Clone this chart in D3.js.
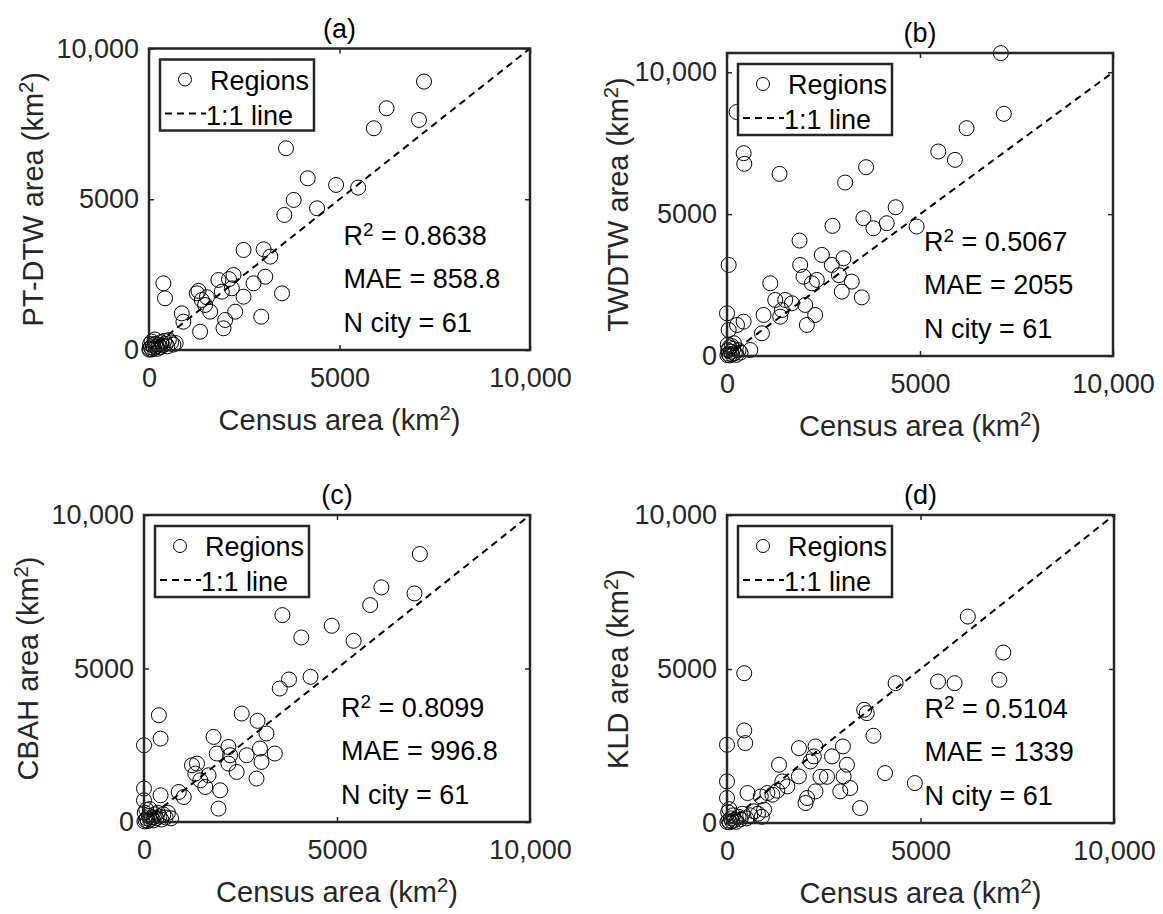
<!DOCTYPE html>
<html><head><meta charset="utf-8">
<script src="https://cdn.jsdelivr.net/npm/d3@7"></script>
<style>body{margin:0;background:#fff} svg text{font-family:"Liberation Sans",Arial,sans-serif}</style>
</head><body><svg id="fig" width="1163" height="914"></svg>
<script>
// ---------------- data ----------------
const tickValues = [0, 5000, 10000];
const tickLabels = ["0", "5000", "10,000"];
const panelTitles = ["(a)", "(b)", "(c)", "(d)"];
const yNames = ["PT-DTW", "TWDTW", "CBAH", "KLD"];
const r2Values = ["0.8638", "0.5067", "0.8099", "0.5104"];
const maeValues = ["858.8", "2055", "996.8", "1339"];
const nCity = [61, 61, 61, 61];
const yMaxValues = [10000, 10680, 10000, 10000];
const legendLabels = ["Regions", "1:1 line"];

const censusA = [7218,6235,5902,7086,3596,4166,4911,5490,3798,4411,3552,2482,3008,3184,
  377,421,860,903,1341,1254,1300,1385,1473,1604,1520,1823,1911,2218,2174,2481,2744,3051,3491,2946,2262,1999,1955,2100,
  20,50,80,100,130,160,190,220,250,290,320,360,400,440,480,520,580,640,30,70,10,150,700];
const ptdtw = [8903,8018,7355,7631,6691,5696,5475,5386,4977,4700,4479,3318,3340,3097,
  2212,1714,1216,939,607,1880,1960,1658,1493,1271,1750,2322,1935,2488,2046,1768,2212,2432,1880,1105,1271,995,720,2350,
  40,90,20,150,60,200,110,40,180,90,260,150,300,200,120,330,250,180,200,280,10,350,230];

const censusB = [7094,7172,6206,5474,5905,3603,3060,431,448,1362,4370,3534,4138,3793,4913,2733,1879,2457,3017,2715,1896,43,
  1983,2198,2327,3232,2974,1121,3491,1250,1509,1681,2026,948,1379,2284,2069,905,431,259,0,43,603,1420,2900,
  10,40,70,100,130,160,200,240,20,60,300,350,30,120,180,250];
const twdtw = [10676,8536,8031,7208,6914,6655,6114,7149,6773,6420,5244,4856,4680,4503,4562,4586,4068,3563,3445,3210,3210,3210,
  2798,2563,2681,2622,2269,2563,2069,1975,1975,1858,1799,1446,1387,1446,1094,800,1211,1094,1505,917,212,1620,2850,
  30,80,20,150,60,250,100,40,400,300,200,120,200,350,450,8600];

const censusC = [7146,7008,6150,5859,3586,4864,4075,5430,3757,4315,3517,2531,386,2942,429,0,1801,3173,2187,2230,2658,3003,3389,1886,
  3044,2187,2401,2915,1243,1372,1329,1458,1587,1672,1973,1930,0,0,429,900,1029,
  10,40,70,100,130,160,200,240,280,320,360,400,450,500,560,620,20,60,150,700];
const cbah = [8729,7446,7642,7066,6739,6392,6011,5902,4642,4729,4348,3533,3478,3294,2718,2500,2771,2882,2445,2175,2175,2393,2230,2230,
  1956,1903,1630,1415,1848,1903,1577,1359,1141,1522,1033,437,1089,707,870,978,815,
  20,60,120,30,200,80,150,50,250,120,300,180,80,250,150,300,300,400,420,120];

const censusD = [6223,7139,7036,5453,5881,4357,445,3544,3612,3784,445,471,0,1860,2286,2996,2243,2714,3099,1344,1857,2414,2585,3013,
  4083,4854,1430,1558,1044,1173,531,2286,2927,3184,2071,2029,3441,0,0,702,959,2157,873,1300,
  10,40,70,100,130,160,200,240,300,350,400,30,60,500,600,800,900];
const kld = [6702,5535,4648,4594,4540,4540,4864,3675,3567,2832,3005,2594,2540,2430,2486,2486,2162,2162,1892,1892,1513,1500,1500,1513,
  1621,1297,1351,1189,973,919,973,1027,1027,1135,811,649,486,1351,811,378,432,1998,862,1050,
  30,80,20,150,60,250,100,40,200,120,300,350,450,150,250,300,200];

const panelX = [censusA, censusB, censusC, censusD];
const panelY = [ptdtw, twdtw, cbah, kld];

// ---------------- layout (pixels) ----------------
const boxes = [
  {l:149, r:530, t:48.5, b:350, yl:106},
  {l:727, r:1113, t:53, b:356, yl:99},
  {l:144, r:530, t:515, b:822, yl:106},
  {l:727, r:1114, t:515, b:823, yl:99}
];
const axisColor = "#262626";
const FS_TICK = 27, FS_LABEL = 29, FS_TEXT = 27;

const svg = d3.select("#fig");

function supText(sel, before, sup, after) {
  sel.append("tspan").text(before);
  sel.append("tspan").attr("dy", "-0.5em").attr("font-size", "0.7em").text(sup);
  if (after !== undefined) sel.append("tspan").attr("dy", "0.35em").text(after);
}

boxes.forEach((bx, i) => {
  const g = svg.append("g");
  const x = d3.scaleLinear().domain([0, 10000]).range([bx.l, bx.r]);
  const y = d3.scaleLinear().domain([0, yMaxValues[i]]).range([bx.b, bx.t]);

  const fmt = d => tickLabels[tickValues.indexOf(d)];
  const ax = g.append("g").attr("transform", `translate(0,${bx.b})`)
    .call(d3.axisBottom(x).tickValues(tickValues).tickFormat(fmt).tickSizeInner(-5).tickSizeOuter(0).tickPadding(18));
  const ay = g.append("g").attr("transform", `translate(${bx.l},0)`)
    .call(d3.axisLeft(y).tickValues(tickValues).tickFormat(fmt).tickSizeInner(-5).tickSizeOuter(0).tickPadding(10));
  const at = g.append("g").attr("transform", `translate(0,${bx.t})`)
    .call(d3.axisTop(x).tickValues(tickValues).tickFormat("").tickSizeInner(-5).tickSizeOuter(0));
  const ar = g.append("g").attr("transform", `translate(${bx.r},0)`)
    .call(d3.axisRight(y).tickValues(tickValues).tickFormat("").tickSizeInner(-5).tickSizeOuter(0));
  [ax, ay, at, ar].forEach(a => {
    a.select(".domain").remove();
    a.selectAll("line").attr("stroke", axisColor).attr("stroke-width", 1.5);
    a.selectAll("text").attr("fill", axisColor).attr("font-size", FS_TICK).attr("font-family", "Liberation Sans, Arial, sans-serif");
  });

  // points
  g.append("g").selectAll("circle")
    .data(panelX[i].map((v, k) => [v, panelY[i][k]]))
    .join("circle")
    .attr("cx", d => x(d[0])).attr("cy", d => y(d[1])).attr("r", 7.5)
    .attr("fill", "none").attr("stroke", "#000").attr("stroke-width", 1);

  // 1:1 line
  g.append("line")
    .attr("x1", x(0)).attr("y1", y(0)).attr("x2", x(10000)).attr("y2", y(10000))
    .attr("stroke", "#000").attr("stroke-width", 2).attr("stroke-dasharray", "7,5");

  // box
  g.append("rect").attr("x", bx.l).attr("y", bx.t).attr("width", bx.r - bx.l).attr("height", bx.b - bx.t)
    .attr("fill", "none").attr("stroke", axisColor).attr("stroke-width", 2.5);

  // legend
  const lg = g.append("g").attr("transform", `translate(${bx.l + 11},${bx.t + 11})`);
  lg.append("rect").attr("width", 154).attr("height", 71).attr("fill", "#fff")
    .attr("stroke", axisColor).attr("stroke-width", 2.5);
  lg.append("circle").attr("cx", 25).attr("cy", 20).attr("r", 6.5).attr("fill", "none").attr("stroke", "#000").attr("stroke-width", 1);
  lg.append("text").attr("x", 50).attr("y", 30).attr("font-size", FS_TEXT).attr("fill", "#000").text(legendLabels[0]);
  lg.append("line").attr("x1", 5).attr("x2", 46).attr("y1", 54).attr("y2", 54)
    .attr("stroke", "#000").attr("stroke-width", 2).attr("stroke-dasharray", "7,5");
  lg.append("text").attr("x", 46).attr("y", 65).attr("font-size", FS_TEXT).attr("fill", "#000").text(legendLabels[1]);

  // stats
  const tx = x(5000) + 4;
  const t1 = g.append("text").attr("x", tx).attr("y", bx.b - 105).attr("font-size", FS_TEXT).attr("fill", "#000");
  supText(t1, "R", "2", " = " + r2Values[i]);
  g.append("text").attr("x", tx).attr("y", bx.b - 62).attr("font-size", FS_TEXT).attr("fill", "#000").text("MAE = " + maeValues[i]);
  g.append("text").attr("x", tx).attr("y", bx.b - 18).attr("font-size", FS_TEXT).attr("fill", "#000").text("N city = " + nCity[i]);

  // title
  g.append("text").attr("x", (bx.l + bx.r) / 2).attr("y", bx.t - 11).attr("text-anchor", "middle")
    .attr("font-size", FS_TEXT).attr("fill", "#000").text(panelTitles[i]);

  // x label
  const xl = g.append("text").attr("x", (bx.l + bx.r) / 2).attr("y", bx.b + 80).attr("text-anchor", "middle")
    .attr("font-size", FS_LABEL).attr("fill", axisColor);
  supText(xl, "Census area (km", "2", ")");

  // y label
  const yl = g.append("text").attr("transform", `translate(${bx.l - bx.yl},${(bx.t + bx.b) / 2}) rotate(-90)`)
    .attr("text-anchor", "middle").attr("font-size", FS_LABEL).attr("fill", axisColor);
  supText(yl, yNames[i] + " area (km", "2", ")");
});
</script></body></html>
